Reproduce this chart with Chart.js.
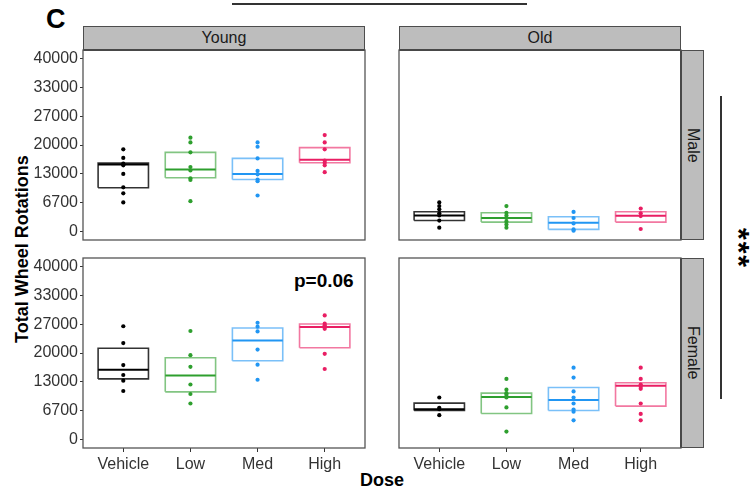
<!DOCTYPE html>
<html><head><meta charset="utf-8">
<script src="https://cdn.jsdelivr.net/npm/chart.js@4.4.1/dist/chart.umd.min.js"></script>
<style>
html,body{margin:0;padding:0;background:#fff;}
#wrap{position:relative;width:755px;height:492px;overflow:hidden;font-family:"Liberation Sans",Arial,sans-serif;color:#000;}
canvas{position:absolute;}
.strip{position:absolute;background:#bdbdbd;border:1px solid #4d4d4d;box-sizing:border-box;color:#1a1a1a;font-size:16px;display:flex;align-items:center;justify-content:center;}
.top{border-bottom:2px solid #333;}
.side{border-left:2px solid #333;}
.vert{writing-mode:vertical-rl;}
.lbl{position:absolute;white-space:nowrap;}
</style></head>
<body><div id="wrap">
<div class="lbl" style="left:46px;top:4px;font-size:27px;font-weight:bold;">C</div>
<div style="position:absolute;left:232px;top:3px;width:295px;height:2px;background:#333;"></div>
<div style="position:absolute;left:720px;top:96px;width:2px;height:303px;background:#333;"></div>
<div class="lbl vert" style="left:727px;top:228px;font-size:30px;font-weight:bold;letter-spacing:2px;line-height:24px;">***</div>
<div class="lbl vert" style="left:10px;top:50px;height:398px;line-height:24px;font-size:18px;font-weight:bold;text-align:center;transform:rotate(180deg);">Total Wheel Rotations</div>
<div class="lbl" style="left:282px;width:200px;top:470px;text-align:center;font-size:18px;font-weight:bold;">Dose</div>
<div class="lbl" style="left:294px;top:270px;font-size:19px;font-weight:bold;">p=0.06</div>

<div class="strip top" style="left:83px;top:26px;width:282px;height:25px;">Young</div>
<div class="strip top" style="left:399px;top:26px;width:282px;height:25px;">Old</div>
<div class="strip side" style="left:680px;top:50px;width:24px;height:190px;"><span class="vert">Male</span></div>
<div class="strip side" style="left:680px;top:258px;width:24px;height:190px;"><span class="vert">Female</span></div>

<canvas id="c1"></canvas><canvas id="c2"></canvas><canvas id="c3"></canvas><canvas id="c4"></canvas>
</div>
<script>
// ---- data ----
const doses = ['Vehicle', 'Low', 'Med', 'High'];
const yTickLabels = ['0', '6700', '13000', '20000', '27000', '33000', '40000'];
const yLimit = 40000;
const doseColors = ['#000000', '#2e9f2e', '#2196F3', '#E91E63'];

// Young / Male
const ymVehicle = [19000, 17000, 15700, 15300, 13300, 10200, 8800, 6700];
const ymLow     = [21700, 20600, 18300, 14900, 14100, 12300, 11900, 7000];
const ymMed     = [20600, 19600, 16900, 14000, 13200, 12000, 11600, 8300];
const ymHigh    = [22300, 20600, 19000, 16400, 15900, 15300, 13700];
const ymBoxes   = [[10100, 15500, 15800], [12400, 14300, 18300], [12000, 13300, 16900], [15900, 16600, 19400]];

// Old / Male
const omVehicle = [6700, 5850, 5100, 4200, 3700, 2500, 850];
const omLow     = [5850, 4300, 3700, 3100, 2300, 1600, 850];
const omMed     = [4500, 3100, 1850, 460, 150];
const omHigh    = [5300, 4200, 3550, 550];
const omBoxes   = [[2500, 3700, 4550], [2150, 3100, 4300], [460, 2000, 3400], [2150, 3600, 4550]];

// Young / Female
const yfVehicle = [26200, 22300, 17200, 14900, 13600, 11200];
const yfLow     = [25100, 19500, 16800, 12700, 10500, 8300];
const yfMed     = [27000, 26100, 25000, 20800, 17300, 13800];
const yfHigh    = [28700, 26800, 26400, 25600, 19800, 16300];
const yfBoxes   = [[14000, 16100, 21100], [11000, 14800, 18900], [18200, 22900, 25800], [21200, 26000, 26700]];

// Old / Female
const ofVehicle = [9700, 7300, 7000, 5600];
const ofLow     = [14000, 11500, 10700, 10300, 9700, 7400, 1800];
const ofMed     = [16600, 14300, 11100, 9700, 8300, 6900, 6400, 4400];
const ofHigh    = [16600, 14000, 12700, 12200, 11700, 8300, 5900, 4400];
const ofBoxes   = [[6700, 7000, 8400], [6000, 9800, 10700], [6700, 9100, 12000], [7700, 12400, 13100]];

// ---- drawing ----
const FONT = '"Liberation Sans", Arial, sans-serif';
const PAD = 15, YW = 53, XH = 28, PW = 282, PH = 190;
const HALF = 0.375;

function alpha(hex, a) {
  const n = parseInt(hex.slice(1), 16);
  return `rgba(${(n >> 16) & 255},${(n >> 8) & 255},${n & 255},${a})`;
}

const panelBorder = {
  id: 'panelBorder',
  afterDatasetsDraw(chart) {
    const { ctx, chartArea: a } = chart;
    ctx.save();
    ctx.strokeStyle = '#555';
    ctx.lineWidth = 1.3;
    ctx.strokeRect(a.left, a.top, a.right - a.left, a.bottom - a.top);
    ctx.restore();
  }
};

function makePanel(id, panelLeft, panelTop, groups, boxes, showY, showX) {
  const cv = document.getElementById(id);
  const w = PAD + (showY ? YW : 0) + PW + PAD;
  const h = PAD + PH + (showX ? XH : 0) + PAD;
  cv.width = w; cv.height = h;
  cv.style.width = w + 'px'; cv.style.height = h + 'px';
  cv.style.left = (panelLeft - PAD - (showY ? YW : 0)) + 'px';
  cv.style.top = (panelTop - PAD) + 'px';

  const datasets = [];
  groups.forEach((vals, i) => {
    datasets.push({
      data: vals.map(v => ({ x: i + 1, y: v })),
      pointRadius: 2.1, pointBackgroundColor: doseColors[i], pointBorderWidth: 0,
      showLine: false, order: 0
    });
  });
  boxes.forEach((b, i) => {
    const x = i + 1, [q1, med, q3] = b;
    datasets.push({
      data: [{ x: x - HALF, y: q1 }, { x: x + HALF, y: q1 }, { x: x + HALF, y: q3 }, { x: x - HALF, y: q3 }, { x: x - HALF, y: q1 }],
      showLine: true, borderColor: alpha(doseColors[i], i === 0 ? 0.8 : 0.6), borderWidth: 1.6,
      pointRadius: 0, fill: false, tension: 0, order: 2
    });
    datasets.push({
      data: [{ x: x - HALF, y: med }, { x: x + HALF, y: med }],
      showLine: true, borderColor: doseColors[i], borderWidth: 2,
      pointRadius: 0, fill: false, order: 1
    });
  });

  new Chart(cv, {
    type: 'scatter',
    data: { datasets },
    plugins: [panelBorder],
    options: {
      responsive: false, animation: false, events: [],
      layout: { padding: PAD },
      plugins: { legend: { display: false }, tooltip: { enabled: false } },
      scales: {
        x: {
          type: 'linear', min: 0.4, max: 4.6, display: showX,
          afterBuildTicks: s => { s.ticks = doses.map((_, i) => ({ value: i + 1 })); },
          afterFit: s => { s.height = showX ? XH : 0; },
          ticks: { callback: (v, i) => doses[i], autoSkip: false, maxRotation: 0, color: '#333', padding: 3, font: { size: 16, family: FONT } },
          grid: { drawOnChartArea: false, drawTicks: true, tickLength: 4, tickColor: '#333', tickWidth: 1 },
          border: { display: false }
        },
        y: {
          type: 'linear', min: -2000, max: 42000, display: showY,
          afterBuildTicks: s => { s.ticks = yTickLabels.map((_, i) => ({ value: i * yLimit / 6 })); },
          afterFit: s => { s.width = showY ? YW : 0; },
          ticks: { callback: (v, i) => yTickLabels[i], autoSkip: false, color: '#333', padding: 2, font: { size: 16, family: FONT } },
          grid: { drawOnChartArea: false, drawTicks: true, tickLength: 3, tickColor: '#333', tickWidth: 1 },
          border: { display: false }
        }
      }
    }
  });
}

makePanel('c1', 83, 50, [ymVehicle, ymLow, ymMed, ymHigh], ymBoxes, true, false);
makePanel('c2', 399, 50, [omVehicle, omLow, omMed, omHigh], omBoxes, false, false);
makePanel('c3', 83, 258, [yfVehicle, yfLow, yfMed, yfHigh], yfBoxes, true, true);
makePanel('c4', 399, 258, [ofVehicle, ofLow, ofMed, ofHigh], ofBoxes, false, true);
</script>
</body></html>
